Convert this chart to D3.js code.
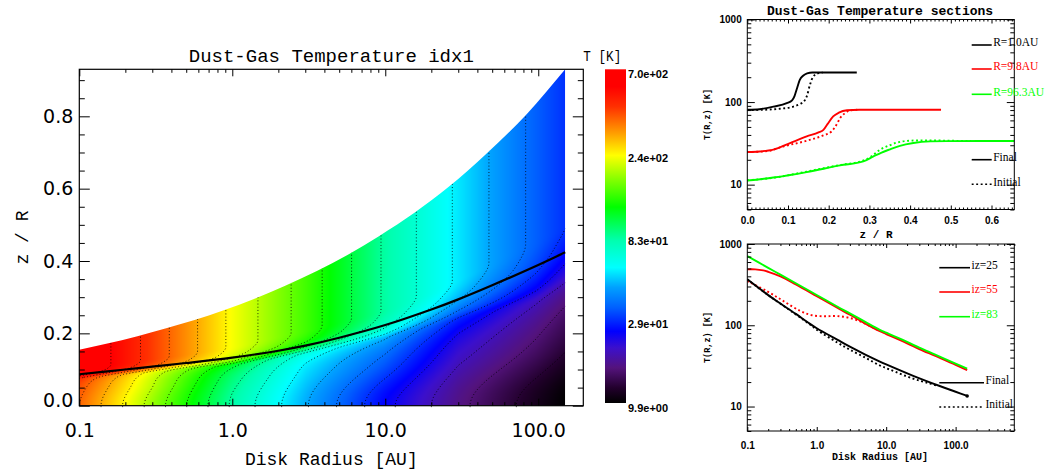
<!DOCTYPE html>
<html>
<head>
<meta charset="utf-8">
<script src="https://cdn.jsdelivr.net/npm/d3@7"></script>
<style>
  html, body { margin: 0; padding: 0; background: #fff; overflow: hidden; }
  svg { display: block; }
</style>
</head>
<body>
<svg id="chart" width="1045" height="469"></svg>
<script>
// ------------------------------------------------------------------
// Data
// ------------------------------------------------------------------

// colour bar: temperature range, tick values and their labels
const tempRange = [9.9, 700];
const colorbarTicks = [9.9, 29, 83, 240, 700];
const colorbarTickLabels = ["9.9e+00", "2.9e+01", "8.3e+01", "2.4e+02", "7.0e+02"];

// rainbow colour table: position along the (log) bar and colour
const paletteStops  = [0, 0.045, 0.105, 0.165, 0.215, 0.286, 0.346, 0.406, 0.486, 0.587, 0.667, 0.742, 0.807, 0.888, 0.948, 1];
const paletteColors = ["#000000", "#22002c", "#54137c", "#3c10cc", "#0000ff", "#0060ff", "#00a0ff", "#00ffff",
                       "#00ffb0", "#00ff00", "#80ff00", "#ffff00", "#ffa000", "#ff3000", "#ff0000", "#ff0000"];

// temperature field T(R, z/R): vertical profiles at a set of radii [AU].
// each profile: midplane, lower layer, knee, mid-rise, top of rise, upper plateau
const profileRadii = [0.1, 0.3, 1.0, 3.0, 9.8, 30, 96.3, 150];
const profileHeights = [
  [0, 0.050, 0.074, 0.082, 0.090, 0.100],
  [0, 0.050, 0.092, 0.101, 0.112, 0.130],
  [0, 0.064, 0.112, 0.123, 0.140, 0.165],
  [0, 0.080, 0.142, 0.158, 0.180, 0.210],
  [0, 0.105, 0.185, 0.205, 0.236, 0.265],
  [0, 0.130, 0.235, 0.265, 0.310, 0.350],
  [0, 0.146, 0.285, 0.330, 0.408, 0.460],
  [0, 0.160, 0.310, 0.370, 0.450, 0.500]
];
const profileTemps = [
  [370,  395,  440,  560,  680,  710],
  [180,  195,  220,  300,  390,  420],
  [80.7, 88,   110,  160,  214,  230],
  [45,   50,   62,   95,   132,  144],
  [24.8, 31.9, 45,   62,   77,   81.5],
  [16,   19.5, 27,   36,   48,   52.5],
  [11.2, 14.2, 19.1, 25,   31.9, 33.5],
  [9.9,  12.5, 16.5, 21.5, 27,   28.8]
];

// upper edge of the computational grid
const diskTopR = [0.1, 0.15, 0.24, 0.37, 0.56, 0.88, 1.4, 2.2, 3.6, 5.7, 9.2, 15.6, 26, 46, 84, 150];
const diskTopZ = [0.155, 0.171, 0.192, 0.214, 0.236, 0.264, 0.296, 0.331, 0.373, 0.417, 0.470, 0.534, 0.605, 0.697, 0.806, 0.93];

// solid black curve over the map
const dividerR = [0.1, 0.2, 0.3, 0.5, 1, 2, 3, 5, 10, 20, 30, 50, 100, 150];
const dividerZ = [0.087, 0.100, 0.108, 0.118, 0.133, 0.152, 0.166, 0.188, 0.223, 0.266, 0.294, 0.333, 0.389, 0.424];

// vertical sections [z/R, T]
const sectionLabels = ["R=1.0AU", "R=9.8AU", "R=96.3AU"];
const sectionColors = ["#000000", "#ff0000", "#00ff00"];
const r1Final = [[0,80.7],[0.03,82],[0.064,88],[0.097,97],[0.11,105],[0.116,118],[0.121,141],[0.129,186],[0.137,208],[0.147,222],[0.16,228],[0.269,228]];
const r1Initial = [[0,80],[0.05,81],[0.08,83],[0.113,88],[0.13,95],[0.14,103],[0.146,117],[0.154,162],[0.162,204],[0.175,224],[0.185,228]];
const r10Final = [[0,24.8],[0.03,25.2],[0.064,26.5],[0.105,31.9],[0.146,38.4],[0.175,43],[0.187,46],[0.197,54],[0.211,67],[0.225,74.5],[0.245,79.5],[0.275,80.7],[0.476,80.7]];
const r10Initial = [[0,24.8],[0.05,25.5],[0.088,29],[0.146,34],[0.187,39.5],[0.207,44],[0.219,53],[0.228,64],[0.24,73.5],[0.252,79],[0.27,80.7]];
const r96Final = [[0,11.2],[0.064,12.2],[0.146,14.2],[0.228,17.1],[0.285,19.1],[0.31,22],[0.33,24.5],[0.351,26.8],[0.375,29.5],[0.408,31.9],[0.449,33.4],[0.49,33.7],[0.656,33.8]];
const r96Initial = [[0,11.3],[0.064,12.1],[0.146,14.4],[0.228,17.3],[0.285,19.6],[0.305,22],[0.326,26.5],[0.35,30],[0.367,32.3],[0.408,34.2],[0.45,34.3],[0.5,34],[0.55,33.8]];

// radial cuts at fixed grid rows [R, T]
const levelLabels = ["iz=25", "iz=55", "iz=83"];
const levelColors = ["#000000", "#ff0000", "#00ff00"];
const iz25Final = [[0.1,367],[0.2,235],[0.3,185],[0.5,138],[0.75,108],[1,92],[2,66],[3,54.5],[5,43.6],[8.1,35.8],[10,33],[24.5,23.9],[59,17.9],[100,15.2],[146.6,13.5]];
const iz25Initial = [[0.1,367],[0.2,235],[0.5,136],[0.8,102],[1,88],[2,61],[3,50],[5,40],[8.1,32],[11.3,28.5],[24.5,22],[40,19.5],[55,18]];
const iz55Final = [[0.1,487],[0.13,487],[0.17,473],[0.2,455],[0.3,400],[0.5,318],[1,228],[2,163],[3,135],[5,105],[8.1,84.5],[10,78],[20,60],[30,51],[50,42.2],[100,32.6],[146.6,28]];
const iz55Initial = [[0.1,350],[0.19,264],[0.33,199],[0.58,150],[0.85,133],[1.3,129],[1.9,130],[3,123],[4.6,108],[6.4,94],[8,86]];
const iz83Final = [[0.1,710],[0.2,509],[0.3,420],[0.5,329],[1,236],[2,169],[3,140],[5,110],[8.1,88],[10,81],[20,62.5],[30,53],[50,43.8],[100,33.8],[146.6,29.2]];

const contourLevelCount = 20;

// ------------------------------------------------------------------
// Helpers
// ------------------------------------------------------------------
const svg = d3.select("#chart");
const defs = svg.append("defs");

const palette = d3.scaleLinear().domain(paletteStops).range(paletteColors).clamp(true);
const tempToUnit = d3.scaleLog().domain(tempRange).range([0, 1]).clamp(true);

const isDecade = v => Math.abs(Math.log10(v) - Math.round(Math.log10(v))) < 1e-6;

function tickLayer(axis, scale, values, len, at, opts = {}) {
  const gen = axis(scale).tickValues(values).tickSize(-len)
    .tickPadding(opts.pad || 0).tickFormat(opts.format || (() => ""));
  const g = svg.append("g").attr("transform", at).call(gen);
  g.select(".domain").remove();
  g.selectAll(".tick line").attr("stroke", "#000").attr("stroke-width", 1);
  g.attr("font-family", opts.font || "sans-serif")
   .attr("font-size", opts.size || 10)
   .attr("font-weight", opts.weight || "normal");
  g.selectAll(".tick text").attr("fill", "#000");
  return g;
}

// interpolated vertical profile (log T) for a given radius
const logRadii = profileRadii.map(Math.log10);
function profileAt(R) {
  const n = logRadii.length;
  const lr = Math.max(logRadii[0], Math.min(logRadii[n - 1], Math.log10(R)));
  let i = d3.bisectRight(logRadii, lr) - 1;
  i = Math.max(0, Math.min(n - 2, i));
  const f = (lr - logRadii[i]) / (logRadii[i + 1] - logRadii[i]);
  const zs = profileHeights[i].map((z, k) => z + f * (profileHeights[i + 1][k] - z));
  const ts = profileTemps[i].map((t, k) => {
    const a = Math.log10(t), b = Math.log10(profileTemps[i + 1][k]);
    return a + f * (b - a);
  });
  // monotone cubic slopes (flat at the midplane and on the plateau)
  const m = zs.length, d = [], s = new Array(m).fill(0);
  for (let k = 0; k < m - 1; k++) d.push((ts[k + 1] - ts[k]) / (zs[k + 1] - zs[k]));
  for (let k = 1; k < m - 1; k++) {
    if (d[k - 1] * d[k] > 0) {
      const h0 = zs[k] - zs[k - 1], h1 = zs[k + 1] - zs[k];
      const w1 = 2 * h1 + h0, w2 = h1 + 2 * h0;
      s[k] = (w1 + w2) / (w1 / d[k - 1] + w2 / d[k]);
    }
  }
  return { zs, ts, s };
}
function logTempAt(p, z) {
  z = Math.abs(z);
  const { zs, ts, s } = p, n = zs.length;
  if (z <= zs[0]) return ts[0];
  if (z >= zs[n - 1]) return ts[n - 1];
  let k = 0;
  while (z > zs[k + 1]) k++;
  const h = zs[k + 1] - zs[k], t = (z - zs[k]) / h;
  const t2 = t * t, t3 = t2 * t;
  return (2 * t3 - 3 * t2 + 1) * ts[k] + (t3 - 2 * t2 + t) * h * s[k]
       + (-2 * t3 + 3 * t2) * ts[k + 1] + (t3 - t2) * h * s[k + 1];
}

// ------------------------------------------------------------------
// Main panel: temperature map
// ------------------------------------------------------------------
const main = { left: 79.3, right: 583.3, top: 69.3, bottom: 405.7 };
const xMain = d3.scaleLog().domain([0.1, 197]).range([main.left, main.right]);
const yMain = d3.scaleLinear().domain([0, 0.93]).range([main.bottom, main.top]);

// clip region: below the grid's upper edge
const diskArea = d3.area()
  .x(d => xMain(d[0])).y0(main.bottom + 2).y1(d => yMain(d[1]))
  .curve(d3.curveMonotoneX);
defs.append("clipPath").attr("id", "diskClip")
  .append("path").attr("d", diskArea(d3.zip(diskTopR, diskTopZ)));

// raster of the field
const hmX0 = xMain(profileRadii[0]);
const hmX1 = xMain(profileRadii[profileRadii.length - 1]);
const hmY0 = main.top, hmY1 = main.bottom;
const cw = Math.round(hmX1 - hmX0), ch = Math.round(hmY1 - hmY0);
const canvas = document.createElement("canvas");
canvas.width = cw; canvas.height = ch;
const ctx = canvas.getContext("2d");
const img = ctx.createImageData(cw, ch);
for (let i = 0; i < cw; i++) {
  const prof = profileAt(xMain.invert(hmX0 + (i + 0.5) * (hmX1 - hmX0) / cw));
  for (let j = 0; j < ch; j++) {
    const z = yMain.invert(hmY0 + (j + 0.5) * (hmY1 - hmY0) / ch);
    const c = d3.rgb(palette(tempToUnit(Math.pow(10, logTempAt(prof, z)))));
    const o = (j * cw + i) * 4;
    img.data[o] = c.r; img.data[o + 1] = c.g; img.data[o + 2] = c.b; img.data[o + 3] = 255;
  }
}
ctx.putImageData(img, 0, 0);
svg.append("image")
  .attr("href", canvas.toDataURL())
  .attr("x", hmX0).attr("y", hmY0)
  .attr("width", hmX1 - hmX0).attr("height", hmY1 - hmY0)
  .attr("preserveAspectRatio", "none")
  .attr("clip-path", "url(#diskClip)");

// isotherms (dotted), evenly spaced in log T across the colour range
const step = 1.5;
const gx0 = main.left - 4, gy0 = main.top - 4;
const nx = Math.ceil((hmX1 + 4 - gx0) / step) + 1;
const ny = Math.ceil((main.bottom + 4 - gy0) / step) + 1;
const grid = new Array(nx * ny);
for (let i = 0; i < nx; i++) {
  const prof = profileAt(xMain.invert(Math.max(1, gx0 + i * step)));
  for (let j = 0; j < ny; j++) {
    grid[j * nx + i] = logTempAt(prof, yMain.invert(gy0 + j * step));
  }
}
const lo = Math.log10(tempRange[0]), hi = Math.log10(tempRange[1]);
const levels = d3.range(1, contourLevelCount).map(k => lo + k * (hi - lo) / contourLevelCount);
const isotherms = d3.contours().size([nx, ny]).thresholds(levels)(grid);
const gridToPx = d3.geoTransform({
  point(x, y) { this.stream.point(gx0 + (x - 0.5) * step, gy0 + (y - 0.5) * step); }
});
svg.append("g").attr("clip-path", "url(#diskClip)")
  .selectAll("path").data(isotherms).join("path")
  .attr("d", d3.geoPath(gridToPx))
  .attr("fill", "none").attr("stroke", "#000")
  .attr("stroke-width", 0.8).attr("stroke-dasharray", "1,2.2");

// solid black curve
svg.append("path")
  .datum(d3.zip(dividerR, dividerZ))
  .attr("d", d3.line().x(d => xMain(d[0])).y(d => yMain(d[1])).curve(d3.curveCatmullRom.alpha(0.5)))
  .attr("fill", "none").attr("stroke", "#000").attr("stroke-width", 2.2);

// frame and ticks
svg.append("rect")
  .attr("x", main.left).attr("y", main.top)
  .attr("width", main.right - main.left).attr("height", main.bottom - main.top)
  .attr("fill", "none").attr("stroke", "#000").attr("stroke-width", 1.2);

const xMainAll = xMain.ticks();
const xMainMajor = xMainAll.filter(isDecade);
const xMainMinor = xMainAll.filter(v => !isDecade(v));
const yMainMajor = yMain.ticks(5);
const yMainMinor = yMain.ticks(20).filter(v => !yMainMajor.some(m => Math.abs(m - v) < 1e-9));

const mainFont = { font: "'DejaVu Sans', sans-serif", size: 19 };
tickLayer(d3.axisBottom, xMain, xMainMajor, 7, `translate(0,${main.bottom})`,
  { ...mainFont, pad: 18, format: d => d.toFixed(1) });
tickLayer(d3.axisBottom, xMain, xMainMinor, 3.5, `translate(0,${main.bottom})`);
tickLayer(d3.axisTop, xMain, xMainMajor, 7, `translate(0,${main.top})`);
tickLayer(d3.axisTop, xMain, xMainMinor, 3.5, `translate(0,${main.top})`);
const yLab = tickLayer(d3.axisLeft, yMain, yMainMajor, 10.5, `translate(${main.left},0)`,
  { ...mainFont, pad: 6, format: d3.format(".1f") });
yLab.selectAll(".tick text").filter(d => d === 0).attr("dy", "0.05em");
tickLayer(d3.axisLeft, yMain, yMainMinor, 5.5, `translate(${main.left},0)`);
tickLayer(d3.axisRight, yMain, yMainMajor, 10.5, `translate(${main.right},0)`);
tickLayer(d3.axisRight, yMain, yMainMinor, 5.5, `translate(${main.right},0)`);

svg.append("text")
  .attr("x", (main.left + main.right) / 2).attr("y", 61.7)
  .attr("text-anchor", "middle")
  .attr("font-family", "'Liberation Mono', monospace").attr("font-size", 19)
  .text("Dust-Gas Temperature idx1");
svg.append("text")
  .attr("x", (main.left + main.right) / 2).attr("y", 465)
  .attr("text-anchor", "middle")
  .attr("font-family", "'Liberation Mono', monospace").attr("font-size", 18)
  .text("Disk Radius [AU]");
svg.append("text")
  .attr("transform", `translate(28,${(main.top + main.bottom) / 2}) rotate(-90)`)
  .attr("text-anchor", "middle")
  .attr("font-family", "'Liberation Mono', monospace").attr("font-size", 18)
  .text("z / R");

// ------------------------------------------------------------------
// Colour bar
// ------------------------------------------------------------------
const yBar = d3.scaleLog().domain(tempRange).range([403, 69.3]);
const grad = defs.append("linearGradient").attr("id", "barGrad")
  .attr("x1", 0).attr("y1", 1).attr("x2", 0).attr("y2", 0);
grad.selectAll("stop").data(paletteStops).join("stop")
  .attr("offset", d => d).attr("stop-color", (d, i) => paletteColors[i]);
svg.append("rect")
  .attr("x", 605).attr("y", yBar(tempRange[1]))
  .attr("width", 21).attr("height", yBar(tempRange[0]) - yBar(tempRange[1]))
  .attr("fill", "url(#barGrad)");
svg.append("g")
  .attr("font-family", "'Liberation Sans', Arial, sans-serif").attr("font-size", 11)
  .attr("font-weight", "bold")
  .selectAll("text").data(colorbarTicks).join("text")
  .attr("x", 628).attr("y", d => yBar(d) + 9)
  .text((d, i) => colorbarTickLabels[i]);
svg.append("text")
  .attr("x", 583.3).attr("y", 60.7)
  .attr("font-family", "'Liberation Mono', monospace").attr("font-size", 14)
  .attr("textLength", 38).attr("lengthAdjust", "spacingAndGlyphs")
  .text("T [K]");

// ------------------------------------------------------------------
// Right panels
// ------------------------------------------------------------------
const monoBold = "'Liberation Mono', monospace";
const labFont = { font: "'Liberation Sans', Arial, sans-serif", size: 10, weight: "bold" };

function panelFrame(box) {
  svg.append("rect")
    .attr("x", box.left).attr("y", box.top)
    .attr("width", box.right - box.left).attr("height", box.bottom - box.top)
    .attr("fill", "none").attr("stroke", "#000").attr("stroke-width", 1);
}
function logYTicks(scale, box) {
  const all = scale.ticks();
  const maj = all.filter(isDecade), mnr = all.filter(v => !isDecade(v));
  tickLayer(d3.axisLeft, scale, maj, 7.5, `translate(${box.left},0)`,
    { ...labFont, pad: 5.6, format: d3.format("d") });
  tickLayer(d3.axisLeft, scale, mnr, 4, `translate(${box.left},0)`);
  tickLayer(d3.axisRight, scale, maj, 7.5, `translate(${box.right},0)`);
  tickLayer(d3.axisRight, scale, mnr, 4, `translate(${box.right},0)`);
}
function curve(data, xs, ys, color, dotted, clipId, shape) {
  svg.append("path").datum(data)
    .attr("clip-path", `url(#${clipId})`)
    .attr("d", d3.line().x(d => xs(d[0])).y(d => ys(d[1])).curve(shape || d3.curveMonotoneX))
    .attr("fill", "none").attr("stroke", color).attr("stroke-width", 1.9)
    .attr("stroke-dasharray", dotted ? "1.9,2.6" : null);
}
function legendRow(x0, x1, yLine, label, color, dotted) {
  svg.append("line").attr("x1", x0).attr("x2", x1).attr("y1", yLine).attr("y2", yLine)
    .attr("stroke", color).attr("stroke-width", 1.6)
    .attr("stroke-dasharray", dotted ? "1.9,2.6" : null);
  svg.append("text").attr("x", x1 + 1.5).attr("y", yLine + 1.2)
    .attr("font-family", "'Liberation Serif', 'Times New Roman', serif").attr("font-size", 11.5)
    .attr("fill", color).text(label);
}

// --- vertical sections ---
const topBox = { left: 747.3, right: 1014.3, top: 19.5, bottom: 209.5 };
const xSec = d3.scaleLinear().domain([0, 0.656]).range([topBox.left, topBox.right]);
const ySec = d3.scaleLog().domain([5, 1000]).range([topBox.bottom, topBox.top]);
defs.append("clipPath").attr("id", "clipTop").append("rect")
  .attr("x", topBox.left).attr("y", topBox.top)
  .attr("width", topBox.right - topBox.left).attr("height", topBox.bottom - topBox.top);

const sectionFinal = [r1Final, r10Final, r96Final];
const sectionInitial = [r1Initial, r10Initial, r96Initial];
sectionInitial.forEach((d, i) => curve(d, xSec, ySec, sectionColors[i], true, "clipTop"));
sectionFinal.forEach((d, i) => curve(d, xSec, ySec, sectionColors[i], false, "clipTop"));

panelFrame(topBox);
const xSecMajor = xSec.ticks(7);
const xSecMinor = xSec.ticks(60).filter(v => !xSecMajor.some(m => Math.abs(m - v) < 1e-9));
tickLayer(d3.axisBottom, xSec, xSecMajor, 4, `translate(0,${topBox.bottom})`,
  { ...labFont, pad: 7.4, format: d3.format(".1f") });
tickLayer(d3.axisBottom, xSec, xSecMinor, 2, `translate(0,${topBox.bottom})`);
tickLayer(d3.axisTop, xSec, xSecMajor, 4, `translate(0,${topBox.top})`);
tickLayer(d3.axisTop, xSec, xSecMinor, 2, `translate(0,${topBox.top})`);
logYTicks(ySec, topBox);

svg.append("text").attr("x", 880).attr("y", 15)
  .attr("text-anchor", "middle").attr("font-family", monoBold)
  .attr("font-size", 13).attr("font-weight", "bold")
  .text("Dust-Gas Temperature sections");
svg.append("text").attr("x", 876).attr("y", 238)
  .attr("text-anchor", "middle").attr("font-family", monoBold)
  .attr("font-size", 11).attr("font-weight", "bold")
  .text("z / R");
svg.append("text")
  .attr("transform", `translate(710,${(topBox.top + topBox.bottom) / 2}) rotate(-90)`)
  .attr("text-anchor", "middle").attr("font-family", monoBold)
  .attr("font-size", 8.5).attr("font-weight", "bold")
  .text("T(R,z) [K]");

[45, 69, 94.3].forEach((y, i) => legendRow(971.7, 991.7, y, sectionLabels[i], sectionColors[i], false));
legendRow(971.7, 991.7, 159.7, "Final", "#000", false);
legendRow(971.7, 991.7, 184.3, "Initial", "#000", true);

// --- radial cuts ---
const botBox = { left: 747.3, right: 1014.3, top: 244, bottom: 431 };
const xRad = d3.scaleLog().domain([0.1, 700]).range([botBox.left, botBox.right]);
const yRad = d3.scaleLog().domain([5, 1000]).range([botBox.bottom, botBox.top]);
defs.append("clipPath").attr("id", "clipBot").append("rect")
  .attr("x", botBox.left).attr("y", botBox.top)
  .attr("width", botBox.right - botBox.left).attr("height", botBox.bottom - botBox.top);

const smooth = d3.curveCatmullRom.alpha(0.5);
curve(iz25Initial, xRad, yRad, levelColors[0], true, "clipBot", smooth);
curve(iz55Initial, xRad, yRad, levelColors[1], true, "clipBot", smooth);
curve(iz25Final, xRad, yRad, levelColors[0], false, "clipBot", smooth);
curve(iz55Final, xRad, yRad, levelColors[1], false, "clipBot", smooth);
curve(iz83Final, xRad, yRad, levelColors[2], false, "clipBot", smooth);
// end marker of the iz=25 cut
const lastCut = iz25Final[iz25Final.length - 1];
svg.append("circle").attr("cx", xRad(lastCut[0])).attr("cy", yRad(lastCut[1]))
  .attr("r", 1.8).attr("fill", "#000");

panelFrame(botBox);
const xRadAll = xRad.ticks();
const xRadMajor = xRadAll.filter(isDecade);
const xRadMinor = xRadAll.filter(v => !isDecade(v));
tickLayer(d3.axisBottom, xRad, xRadMajor, 4, `translate(0,${botBox.bottom})`,
  { ...labFont, pad: 10.4, format: d => d.toFixed(1) });
tickLayer(d3.axisBottom, xRad, xRadMinor, 2, `translate(0,${botBox.bottom})`);
tickLayer(d3.axisTop, xRad, xRadMajor, 4, `translate(0,${botBox.top})`);
tickLayer(d3.axisTop, xRad, xRadMinor, 2, `translate(0,${botBox.top})`);
logYTicks(yRad, botBox);

svg.append("text").attr("x", 880).attr("y", 460)
  .attr("text-anchor", "middle").attr("font-family", monoBold)
  .attr("font-size", 10).attr("font-weight", "bold")
  .text("Disk Radius [AU]");
svg.append("text")
  .attr("transform", `translate(710,${(botBox.top + botBox.bottom) / 2}) rotate(-90)`)
  .attr("text-anchor", "middle").attr("font-family", monoBold)
  .attr("font-size", 8.5).attr("font-weight", "bold")
  .text("T(R,z) [K]");

[267.7, 292, 316.7].forEach((y, i) => legendRow(939.3, 970, y, levelLabels[i], levelColors[i], false));
legendRow(939.3, 984, 382.7, "Final", "#000", false);
legendRow(939.3, 984, 407, "Initial", "#000", true);
</script>
</body>
</html>
